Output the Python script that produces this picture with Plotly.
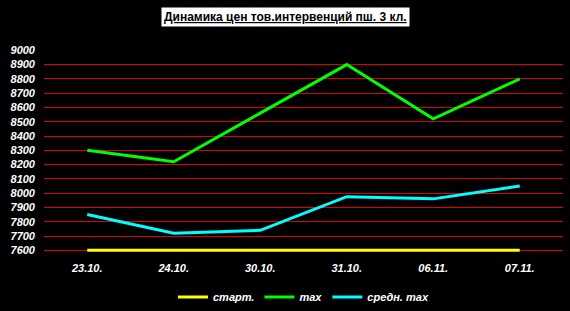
import plotly.graph_objects as go

categories = ["23.10.", "24.10.", "30.10.", "31.10.", "06.11.", "07.11."]
start_vals = [7600, 7600, 7600, 7600, 7600, 7600]
max_vals = [8300, 8220, 8560, 8900, 8520, 8800]
avg_max_vals = [7850, 7720, 7740, 7975, 7960, 8050]
y_ticks = list(range(7600, 9001, 100))

fig = go.Figure()
fig.add_trace(go.Scatter(x=categories, y=start_vals, mode="lines", name="старт.",
                         line=dict(color="#ffff00", width=3)))
fig.add_trace(go.Scatter(x=categories, y=max_vals, mode="lines", name="max",
                         line=dict(color="#00ff00", width=3)))
fig.add_trace(go.Scatter(x=categories, y=avg_max_vals, mode="lines", name="средн. max",
                         line=dict(color="#00ffff", width=3)))

tickfont = dict(family="Liberation Sans", size=11, color="white", weight="bold", style="italic")

fig.update_layout(
    width=570, height=311,
    paper_bgcolor="black", plot_bgcolor="black",
    margin=dict(l=44, r=7, t=50, b=59, autoexpand=False),
    showlegend=True,
    legend=dict(orientation="h", x=0.5, xanchor="center",
                yref="container", y=(311 - 297) / 311, yanchor="middle",
                font=tickfont, bgcolor="rgba(0,0,0,0)", itemwidth=30,
                traceorder="normal"),
    xaxis=dict(type="category", range=[-0.5, 5.5], showgrid=False, zeroline=False,
               showline=False, ticks="", tickfont=tickfont, ticklabelstandoff=8),
    yaxis=dict(range=[7588, 9002], tickvals=y_ticks, ticktext=[str(v) for v in y_ticks],
               showgrid=True, gridcolor="#e00000", gridwidth=1, zeroline=False,
               showline=False, ticks="", tickfont=tickfont, ticklabelstandoff=8),
    annotations=[dict(text="<u>Динамика цен тов.интервенций пш. 3 кл.</u>",
                      xref="paper", yref="paper", x=(285 - 44) / 519, y=1.0,
                      yshift=33, xanchor="center", yanchor="middle", showarrow=False,
                      bgcolor="white", borderpad=2,
                      font=dict(family="Liberation Sans", size=12, color="black", weight="bold"))],
)

fig.write_html("out.html")
